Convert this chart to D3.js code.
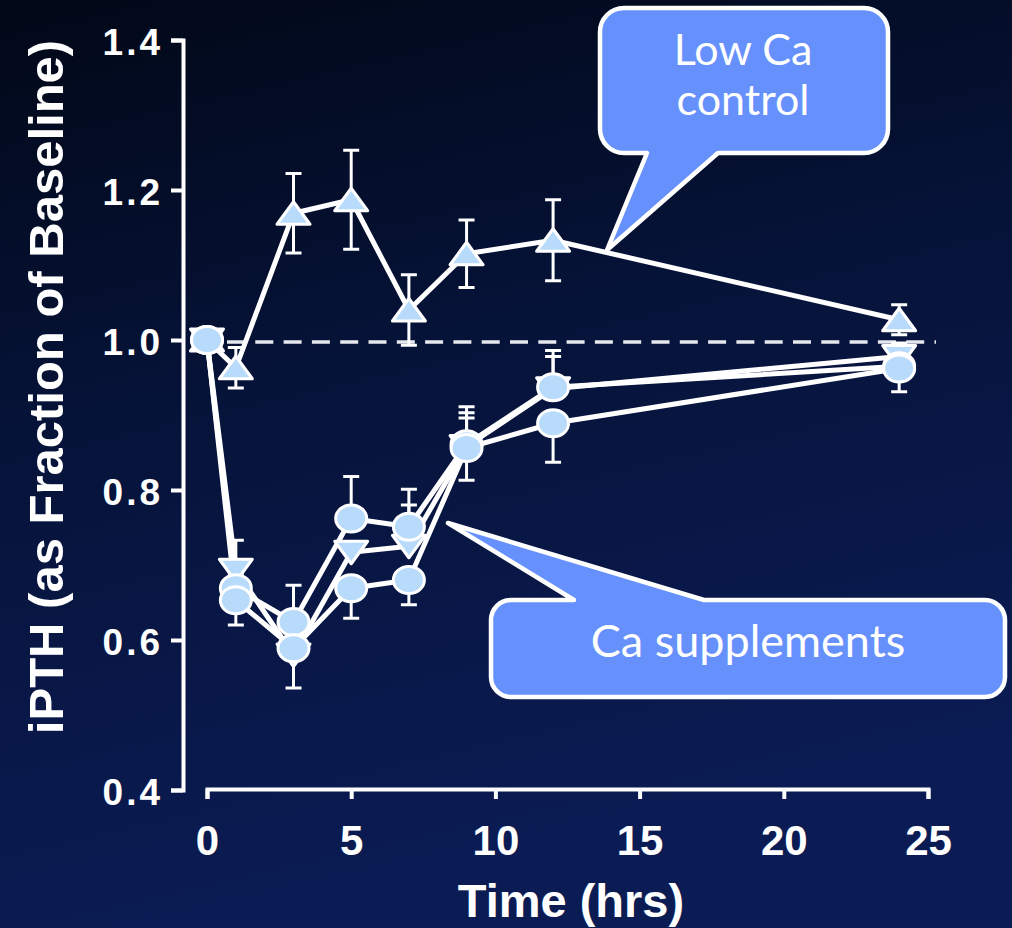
<!DOCTYPE html>
<html>
<head>
<meta charset="utf-8">
<script src="https://cdn.jsdelivr.net/npm/d3@7"></script>
<style>
  html, body { margin: 0; padding: 0; background: #040c24; }
  svg { display: block; }
</style>
</head>
<body>
<svg id="chart" width="1012" height="928"></svg>
<script>
// Sampling times (hours after dosing)
const hours = [0, 1, 3, 5, 7, 9, 12, 24];
const xTicks = [0, 5, 10, 15, 20, 25];
const yTicks = [0.4, 0.6, 0.8, 1.0, 1.2, 1.4];

// Low-calcium control meal (up triangles), mean and SEM
const lowCa    = [1.000, 0.963, 1.169, 1.187, 1.040, 1.115, 1.133, 1.027];
const lowCaSem = [0, 0.027, 0.053, 0.066, 0.047, 0.045, 0.054, 0.020];

// Calcium supplement A (circles), error shown upward
const suppA    = [1.000, 0.669, 0.624, 0.762, 0.751, 0.861, 0.937, 0.965];
const suppAUp  = [0, 0.020, 0.049, 0.056, 0.050, 0.050, 0.049, 0.031];
const suppADn  = [0, 0, 0, 0, 0, 0, 0, 0];

// Calcium supplement B (circles), error shown downward
const suppB    = [1.000, 0.653, 0.589, 0.669, 0.680, 0.856, 0.889, 0.962];
const suppBUp  = [0, 0, 0, 0, 0, 0.040, 0, 0];
const suppBDn  = [0, 0.033, 0, 0.040, 0.033, 0.043, 0.052, 0.031];

// Calcium supplement C (down triangles)
const suppC    = [1.000, 0.693, 0.580, 0.717, 0.725, 0.858, 0.935, 0.978];
const suppCUp  = [0, 0.040, 0, 0, 0.055, 0.045, 0.043, 0.015];
const suppCDn  = [0, 0, 0.044, 0, 0, 0, 0, 0];

const series = [
  { name: "Low Ca control", shape: "up",     values: lowCa, up: lowCaSem, dn: lowCaSem },
  { name: "Supplement C",   shape: "down",   values: suppC, up: suppCUp,  dn: suppCDn },
  { name: "Supplement A",   shape: "circle", values: suppA, up: suppAUp,  dn: suppADn },
  { name: "Supplement B",   shape: "circle", values: suppB, up: suppBUp,  dn: suppBDn }
];

const W = 1012, H = 928;
const svg = d3.select("#chart");

// background gradient
const defs = svg.append("defs");
const grad = defs.append("linearGradient").attr("id", "bg")
  .attr("x1", 0).attr("y1", 0).attr("x2", 0.25).attr("y2", 1);
grad.append("stop").attr("offset", "0%").attr("stop-color", "#020817");
grad.append("stop").attr("offset", "45%").attr("stop-color", "#061339");
grad.append("stop").attr("offset", "100%").attr("stop-color", "#0b1c55");
svg.append("rect").attr("width", W).attr("height", H).attr("fill", "url(#bg)");

const x = d3.scaleLinear().domain([0, 25]).range([207, 928]);
const y = d3.scaleLinear().domain([0.4, 1.4]).range([790, 40]);

const white = "#ffffff";
const markerFill = "#b9dbfb";

// axes
const yAxis = svg.append("g")
  .attr("transform", "translate(183,0)")
  .call(d3.axisLeft(y).tickValues(yTicks).tickSize(12).tickSizeOuter(12)
    .tickPadding(8).tickFormat(d3.format(".1f")));
const xAxis = svg.append("g")
  .attr("transform", "translate(0,789)")
  .call(d3.axisBottom(x).tickValues(xTicks).tickSize(10).tickSizeOuter(10)
    .tickPadding(26).tickFormat(d3.format("d")));

[yAxis, xAxis].forEach(g => {
  g.select(".domain").attr("stroke", white).attr("stroke-width", 4).attr("fill", "none");
  g.selectAll(".tick line").attr("stroke", white).attr("stroke-width", 4);
  g.selectAll(".tick text").attr("fill", white)
    .style("font-family", "'Liberation Sans', Arial, sans-serif")
    .style("font-weight", "bold");
});
yAxis.selectAll(".tick text").style("font-size", "37px").attr("dy", "0.38em")
  .style("letter-spacing", "3px");
xAxis.selectAll(".tick text").style("font-size", "42px");

// axis titles
svg.append("text")
  .attr("transform", "translate(63,387) rotate(-90)")
  .attr("text-anchor", "middle")
  .attr("fill", white)
  .style("font-family", "'Liberation Sans', Arial, sans-serif")
  .style("font-weight", "bold").style("font-size", "49px")
  .text("iPTH (as Fraction of Baseline)");

svg.append("text")
  .attr("x", 571).attr("y", 917)
  .attr("text-anchor", "middle")
  .attr("fill", white)
  .style("font-family", "'Liberation Sans', Arial, sans-serif")
  .style("font-weight", "bold").style("font-size", "47px")
  .text("Time (hrs)");

// baseline reference at 1.0
svg.append("line")
  .attr("x1", 227).attr("x2", 936)
  .attr("y1", y(1.0) + 2).attr("y2", y(1.0) + 2)
  .attr("stroke", "#e6e8ee").attr("stroke-width", 3.5)
  .attr("stroke-dasharray", "18 10.3");

// connecting lines
const line = d3.line().x(d => x(d.t)).y(d => y(d.v));
series.forEach(s => {
  const pts = hours.map((t, i) => ({ t, v: s.values[i] }));
  svg.append("path").datum(pts)
    .attr("d", line)
    .attr("fill", "none")
    .attr("stroke", white).attr("stroke-width", 5)
    .attr("stroke-linejoin", "round");
});

// error bars (SEM)
const capHalf = 8;
const eg = svg.append("g").attr("stroke", white).attr("stroke-width", 3).attr("fill", "none");
series.forEach(s => {
  hours.forEach((t, i) => {
    const v = s.values[i], cx = x(t);
    [[s.up[i], 1], [s.dn[i], -1]].forEach(([e, dir]) => {
      if (!e) return;
      const yEnd = y(v + dir * e);
      eg.append("line").attr("x1", cx).attr("x2", cx).attr("y1", y(v)).attr("y2", yEnd);
      eg.append("line").attr("x1", cx - capHalf).attr("x2", cx + capHalf).attr("y1", yEnd).attr("y2", yEnd);
    });
  });
});

// markers
const mg = svg.append("g");
function drawMarker(shape, cx, cy) {
  if (shape === "circle") {
    mg.append("ellipse").attr("cx", cx).attr("cy", cy).attr("rx", 15.5).attr("ry", 13.5)
      .attr("fill", markerFill).attr("stroke", white).attr("stroke-width", 3);
  } else {
    const s = shape === "up" ? 1 : -1;
    const p = d3.path();
    p.moveTo(cx, cy - s * 11.5);
    p.lineTo(cx + 16.5, cy + s * 11);
    p.lineTo(cx - 16.5, cy + s * 11);
    p.closePath();
    mg.append("path").attr("d", p.toString())
      .attr("fill", markerFill).attr("stroke", white).attr("stroke-width", 3)
      .attr("stroke-linejoin", "round");
  }
}
series.forEach(s => {
  hours.forEach((t, i) => drawMarker(s.shape, x(t), y(s.values[i])));
});

// speech-bubble callouts
function bubble(box, r, tail, edge) {
  const [x0, y0, x1, y1] = box;
  const p = d3.path();
  p.moveTo(x0 + r, y0);
  if (edge === "top") {
    p.lineTo(tail.a, y0); p.lineTo(tail.tx, tail.ty); p.lineTo(tail.b, y0);
  }
  p.lineTo(x1 - r, y0);
  p.arcTo(x1, y0, x1, y0 + r, r);
  p.lineTo(x1, y1 - r);
  p.arcTo(x1, y1, x1 - r, y1, r);
  if (edge === "bottom") {
    p.lineTo(tail.b, y1); p.lineTo(tail.tx, tail.ty); p.lineTo(tail.a, y1);
  }
  p.lineTo(x0 + r, y1);
  p.arcTo(x0, y1, x0, y1 - r, r);
  p.lineTo(x0, y0 + r);
  p.arcTo(x0, y0, x0 + r, y0, r);
  p.closePath();
  return p.toString();
}
const calloutFill = "#6690fc";
const cg = svg.append("g");
cg.append("path")
  .attr("d", bubble([600, 8, 888, 153], 24, { a: 647, b: 718, tx: 607, ty: 250 }, "bottom"))
  .attr("fill", calloutFill).attr("stroke", white).attr("stroke-width", 4.5)
  .attr("stroke-linejoin", "round");
cg.append("path")
  .attr("d", bubble([491, 600, 1005, 697], 20, { a: 574, b: 704, tx: 448, ty: 523 }, "top"))
  .attr("fill", calloutFill).attr("stroke", white).attr("stroke-width", 4.5)
  .attr("stroke-linejoin", "round");

const calloutFont = "Lato, 'Noto Sans', sans-serif";
cg.append("text").attr("x", 743).attr("y", 65).attr("text-anchor", "middle")
  .attr("fill", white).style("font-family", calloutFont).style("font-size", "43px")
  .text("Low Ca");
cg.append("text").attr("x", 743).attr("y", 115).attr("text-anchor", "middle")
  .attr("fill", white).style("font-family", calloutFont).style("font-size", "43px")
  .text("control");
cg.append("text").attr("x", 748).attr("y", 657).attr("text-anchor", "middle")
  .attr("fill", white).style("font-family", calloutFont).style("font-size", "45px")
  .text("Ca supplements");
</script>
</body>
</html>
